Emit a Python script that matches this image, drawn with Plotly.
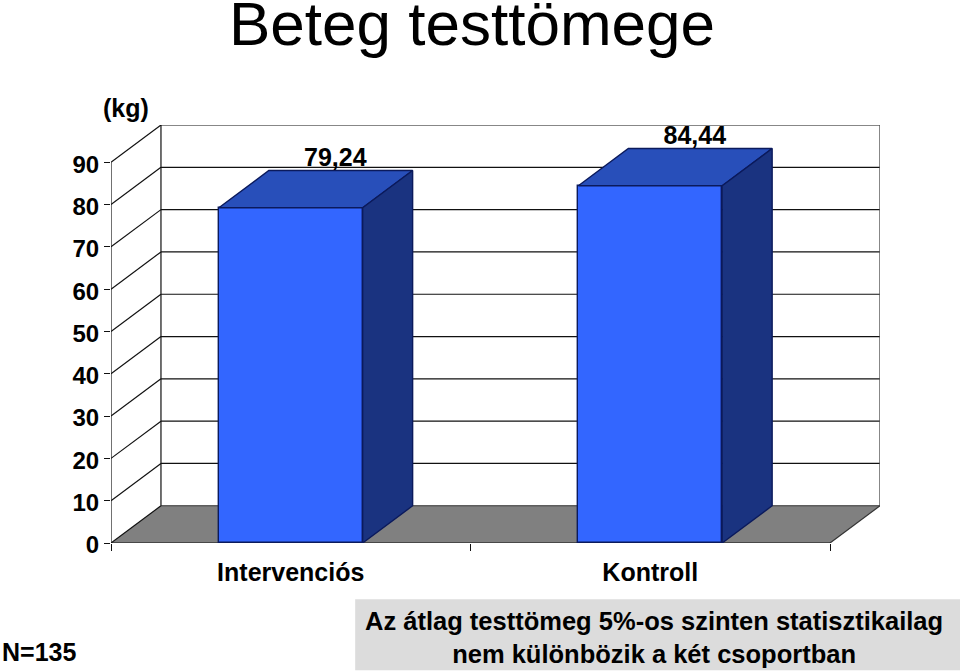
import plotly.graph_objects as go

categories = ["Intervenciós", "Kontroll"]
values = [79.24, 84.44]
value_labels = ["79,24", "84,44"]
y_ticks = [0, 10, 20, 30, 40, 50, 60, 70, 80, 90]
title_text = "Beteg testtömege"
unit_text = "(kg)"
n_text = "N=135"
note_lines = ["Az átlag testtömeg 5%-os szinten statisztikailag",
              "nem különbözik a két csoportban"]

FONT = "Liberation Sans"
W, H = 960, 672
L, R, T, B = 110.5, 79.5, 124.7, 129.3
DX, DY = 0.139, 8.8
BAR_W = 0.4
xs = [i + 0.5 for i in range(len(categories))]
NCAT = len(categories)
YMAX = max(y_ticks)

FRONT, TOP, SIDE, EDGE = "#3366ff", "#284fba", "#1a3380", "#0b1a5c"
LINE = "#111111"


def seg(x0, y0, x1, y1, color=LINE, width=1.2):
    return dict(type="line", layer="below", xref="x", yref="y", x0=x0, y0=y0, x1=x1, y1=y1,
                line=dict(color=color, width=width))


def px(x):
    return (x - L) / (W - L - R)


def py(y):
    return (H - B - y) / (H - T - B)


shapes = []
# note box
shapes.append(dict(type="rect", layer="below", xref="paper", yref="paper",
                   x0=px(355), x1=px(962), y0=py(670), y1=py(599),
                   fillcolor="#dcdcdc", line=dict(width=0)))
# floor
shapes.append(dict(type="path", layer="below", xref="x", yref="y",
                   path=f"M 0 0 L {DX} {DY} L {NCAT + DX} {DY} L {NCAT} 0 Z",
                   fillcolor="#808080", line=dict(width=0)))
for v in y_ticks:
    if v > 0:
        shapes.append(seg(0, v, DX, v + DY))
    shapes.append(seg(DX, v + DY, NCAT + DX, v + DY, LINE if v else "#333333"))
shapes.append(seg(DX, DY, DX, YMAX + DY))
shapes.append(seg(NCAT + DX, DY, NCAT + DX, YMAX + DY, "#555555", 1.4))
shapes.append(seg(0, 0, DX, DY))
shapes.append(seg(NCAT, 0, NCAT + DX, DY, "#333333"))
shapes.append(seg(0, 0, 0, YMAX))
shapes.append(seg(0, 0, NCAT, 0))

fig = go.Figure()
fig.add_trace(go.Bar(x=xs, y=values, width=BAR_W, marker=dict(color=FRONT, line=dict(color=EDGE, width=1.4)),
                     showlegend=False, hoverinfo="skip"))
for x, v in zip(xs, values):
    a, b = x - BAR_W / 2, x + BAR_W / 2
    fig.add_trace(go.Scatter(x=[a, a + DX, b + DX, b, a], y=[v, v + DY, v + DY, v, v], mode="lines",
                             fill="toself", fillcolor=TOP, line=dict(color=EDGE, width=1.4),
                             showlegend=False, hoverinfo="skip"))
    fig.add_trace(go.Scatter(x=[b, b + DX, b + DX, b, b], y=[v, v + DY, DY, 0, v], mode="lines",
                             fill="toself", fillcolor=SIDE, line=dict(color=EDGE, width=1.4),
                             showlegend=False, hoverinfo="skip"))
fig.add_trace(go.Scatter(x=[x + 0.124 for x in xs], y=[v + DY - 0.3 for v in values], mode="text",
                         text=value_labels, textposition="top center",
                         textfont=dict(family=FONT, size=25, color="black", weight="bold"),
                         showlegend=False, hoverinfo="skip", cliponaxis=False))

annotations = [
    dict(text=title_text, xref="paper", yref="paper", x=px(472), y=py(23), showarrow=False,
         xanchor="center", yanchor="middle", font=dict(family=FONT, size=62, color="black")),
    dict(text=f"<b>{unit_text}</b>", xref="paper", yref="paper", x=px(125.5), y=py(107.5), showarrow=False,
         xanchor="center", yanchor="middle", font=dict(family=FONT, size=25, color="black")),
    dict(text=f"<b>{n_text}</b>", xref="paper", yref="paper", x=px(-1), y=py(652), showarrow=False,
         xanchor="left", yanchor="middle", font=dict(family=FONT, size=25, color="black")),
    dict(text="<b>" + "<br>".join(note_lines) + "</b>", xref="paper", yref="paper", x=px(654.5), y=py(637.5),
         showarrow=False, xanchor="center", yanchor="middle", align="center",
         font=dict(family=FONT, size=25.5, color="black")),
]

fig.update_layout(
    width=W, height=H, margin=dict(l=L, r=R, t=T, b=B, autoexpand=False),
    paper_bgcolor="white", plot_bgcolor="white", shapes=shapes, annotations=annotations,
    bargap=0, showlegend=False,
    xaxis=dict(range=[0, NCAT + DX], tickmode="array", tickvals=xs, ticktext=[f"<b>{c}</b>" for c in categories],
               ticks="outside", ticklen=0, ticklabelstandoff=7, showgrid=False, zeroline=False, showline=False,
               tickfont=dict(family=FONT, size=25, color="black"),
               minor=dict(tickmode="array", tickvals=list(range(NCAT + 1)), ticks="outside", ticklen=7,
                          tickcolor=LINE, tickwidth=1.2, showgrid=False)),
    yaxis=dict(range=[0, YMAX + DY], tickmode="array", tickvals=y_ticks, ticktext=[f"<b>{v}</b>" for v in y_ticks],
               ticks="outside", ticklen=6, tickcolor=LINE, tickwidth=1.2, showgrid=False, zeroline=False,
               showline=False, ticklabelshift=2, tickfont=dict(family=FONT, size=24, color="black")),
)

fig.write_html("out.html", config={"displayModeBar": False}, post_script="document.body.style.margin='0';")
